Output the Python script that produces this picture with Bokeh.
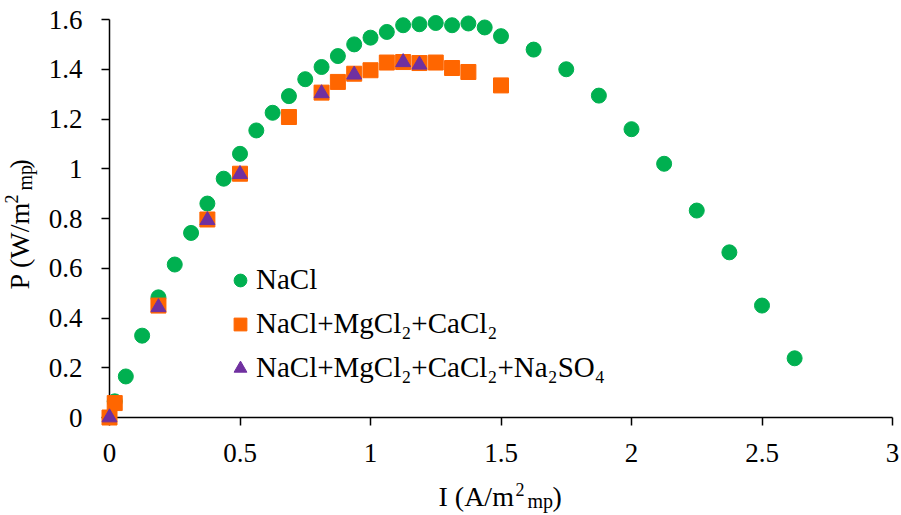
import math
from bokeh.plotting import figure
from bokeh.models import (Range1d, FixedTicker, Legend, LegendItem,
                          ColumnDataSource)
from bokeh.core.properties import value
from bokeh.embed import file_html
from bokeh.resources import INLINE

# ---------------- data ----------------
nacl_I = [0.02, 0.0625, 0.125, 0.1875, 0.25, 0.3125, 0.375, 0.4375, 0.5,
          0.5625, 0.625, 0.6875, 0.75, 0.8125, 0.875, 0.9375, 1.0, 1.0625,
          1.125, 1.1875, 1.25, 1.3125, 1.375, 1.4375, 1.5, 1.625, 1.75,
          1.875, 2.0, 2.125, 2.25, 2.375, 2.5, 2.625]
nacl_P = [0.065, 0.165, 0.329, 0.483, 0.615, 0.742, 0.860, 0.960, 1.060,
          1.154, 1.225, 1.292, 1.360, 1.409, 1.453, 1.500, 1.527, 1.550,
          1.577, 1.581, 1.586, 1.577, 1.584, 1.568, 1.533, 1.479, 1.400,
          1.294, 1.159, 1.020, 0.832, 0.664, 0.450, 0.238]

mix_I = [0.0, 0.02, 0.1875, 0.375, 0.5, 0.6875, 0.8125, 0.875, 0.9375,
         1.0, 1.0625, 1.125, 1.1875, 1.25, 1.3125, 1.375, 1.5]
mix_P = [0.0, 0.058, 0.450, 0.796, 0.980, 1.208, 1.306, 1.349, 1.382,
         1.396, 1.427, 1.429, 1.425, 1.427, 1.405, 1.389, 1.335]

so4_I = [0.0, 0.1875, 0.375, 0.5, 0.8125, 0.9375, 1.125, 1.1875]
so4_P = [0.0, 0.443, 0.793, 0.978, 1.303, 1.378, 1.428, 1.418]

series_names = ["NaCl", "NaCl+MgCl₂+CaCl₂", "NaCl+MgCl₂+CaCl₂+Na₂SO₄"]
series_colors = ["#00B050", "#FF6600", "#7030A0"]

x_ticks = [0, 0.5, 1, 1.5, 2, 2.5, 3]
x_tick_labels = ["0", "0.5", "1", "1.5", "2", "2.5", "3"]
y_ticks = [0, 0.2, 0.4, 0.6, 0.8, 1, 1.2, 1.4, 1.6]
y_tick_labels = ["0", "0.2", "0.4", "0.6", "0.8", "1", "1.2", "1.4", "1.6"]

FONT = "Liberation Serif"

# ---------------- figure ----------------
p = figure(width=900, height=514, output_backend="svg", toolbar_location=None,
           x_range=Range1d(0, 3), y_range=Range1d(0, 1.6),
           min_border_left=109, min_border_right=8, min_border_top=19,
           min_border_bottom=97)
p.title.visible = False
p.xgrid.visible = False
p.ygrid.visible = False
p.outline_line_color = None
p.background_fill_color = "white"
p.border_fill_color = "white"

for ax in (p.xaxis[0], p.yaxis[0]):
    ax.axis_line_color = "black"
    ax.axis_line_width = 1.5
    ax.major_tick_line_color = "black"
    ax.major_tick_line_width = 1.5
    ax.major_tick_out = 8
    ax.major_tick_in = 0
    ax.minor_tick_line_color = None
    ax.major_label_text_font = FONT
    ax.major_label_text_font_size = "27px"
    ax.major_label_text_color = "black"

p.xaxis.ticker = FixedTicker(ticks=x_ticks)
p.xaxis.major_label_overrides = {t: s for t, s in zip(x_ticks, x_tick_labels)}
p.xaxis.major_label_standoff = 18
p.yaxis.ticker = FixedTicker(ticks=y_ticks)
p.yaxis.major_label_standoff = 19
p.yaxis.major_label_overrides = {t: s for t, s in zip(y_ticks, y_tick_labels)}

r1 = p.scatter("I", "P", source=ColumnDataSource(dict(I=nacl_I, P=nacl_P)),
               marker="circle", size=15, fill_color=series_colors[0],
               line_color=series_colors[0], level="overlay")
r2 = p.scatter("I", "P", source=ColumnDataSource(dict(I=mix_I, P=mix_P)),
               marker="square", size=15, fill_color=series_colors[1],
               line_color=series_colors[1], level="overlay")
r3 = p.scatter("I", "P", source=ColumnDataSource(dict(I=so4_I, P=so4_P)),
               marker="triangle", size=15, fill_color=series_colors[2],
               line_color=series_colors[2], level="overlay")

legend = Legend(items=[LegendItem(label=n, renderers=[r])
                       for n, r in zip(series_names, [r1, r2, r3])],
                location=(115, 33), padding=0, margin=0, spacing=11,
                glyph_width=32, glyph_height=32, label_standoff=-13,
                label_text_font=FONT, label_text_font_size="29px",
                label_text_color="black", border_line_color=None,
                background_fill_alpha=0)
p.add_layout(legend)

# ---------------- axis titles with super/subscripts ----------------
# pieces anchored at the frame's lower-left corner, offset in pixels
def add_text(txt, size, dx, dy, angle=0.0):
    p.text(x=[0], y=[0], text=[txt], x_offset=dx, y_offset=dy, angle=angle,
           text_font=value(FONT), text_font_size=f"{size}px",
           text_color="black", text_baseline="alphabetic",
           text_align="left", level="overlay")

# x title: I (A/m²_mp)
add_text("I (A/m", 28, 329, 79)
add_text("2", 18, 406, 72)
add_text("mp", 20, 418, 83)
add_text(")", 28, 443, 79)

# y title: P (W/m²_mp)
ang = math.pi / 2
add_text("P (W/m", 28, -90, -128, ang)
add_text("2", 18, -98, -214, ang)
add_text("mp", 20, -85, -227, ang)
add_text(")", 28, -90, -249, ang)

open("out.html", "w").write(file_html(p, INLINE))
